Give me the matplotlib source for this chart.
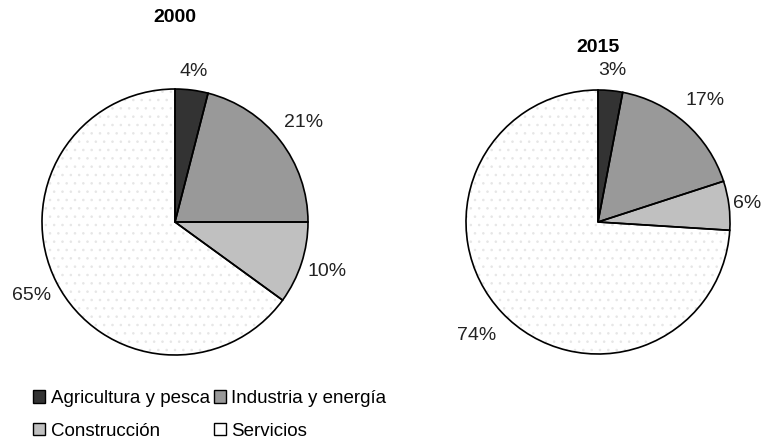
import numpy as np
import matplotlib.pyplot as plt
from matplotlib.patches import Patch

plt.rcParams['font.family'] = ['Liberation Sans', 'DejaVu Sans']
plt.rcParams['hatch.linewidth'] = 0.6

categories = ['Agricultura y pesca', 'Industria y energía', 'Construcción', 'Servicios']
values_2000 = [4, 21, 10, 65]
values_2015 = [3, 17, 6, 74]
colors = ['#333333', '#999999', '#c0c0c0', '#ffffff']

W, H = 763, 441
fig = plt.figure(figsize=(W / 100, H / 100), dpi=100)


def draw_pie(cx, cy, r, values, title, ty, label_dist):
    ax = fig.add_axes([(cx - r) / W, (H - cy - r) / H, 2 * r / W, 2 * r / H])
    # fill, with a faint dotted pattern for Servicios
    wedges, _ = ax.pie(values, colors=colors, startangle=90, counterclock=False,
                       wedgeprops=dict(linewidth=0))
    wedges[3].set_hatch('..')
    wedges[3].set_edgecolor('#e6e6e6')
    # black outlines on top
    outline, _ = ax.pie(values, colors=['none'] * 4, startangle=90, counterclock=False,
                        wedgeprops=dict(edgecolor='black', linewidth=1.2))
    for w, v, d in zip(outline, values, label_dist):
        ang = np.deg2rad((w.theta1 + w.theta2) / 2)
        ax.text(d * np.cos(ang), d * np.sin(ang), f'{v}%', ha='center', va='center',
                fontsize=14, color='#222222')
    ax.set_xlim(-1, 1)
    ax.set_ylim(-1, 1)
    ax.set_aspect('equal')
    fig.text(cx / W, 1 - ty / H, title, ha='center', va='center',
             fontsize=14, fontweight='bold')
    return ax


draw_pie(175, 222, 133, values_2000, '2000', 18, [1.14, 1.22, 1.2, 1.21])
draw_pie(598, 222, 132, values_2015, '2015', 48, [1.15, 1.23, 1.14, 1.26])

# legend is filled column-wise, so reorder to read row by row
order = [0, 2, 1, 3]
handles = [Patch(facecolor=colors[i], edgecolor='black', linewidth=1) for i in order]
labels = [categories[i] for i in order]
fig.legend(handles, labels, loc='upper left', bbox_to_anchor=(16 / W, 1 - 373 / H),
           ncol=2, frameon=False, fontsize=13.5, handlelength=0.65, handleheight=0.65,
           handletextpad=0.3, columnspacing=0.2, labelspacing=0.85)

fig.savefig('out.png', dpi=100)
